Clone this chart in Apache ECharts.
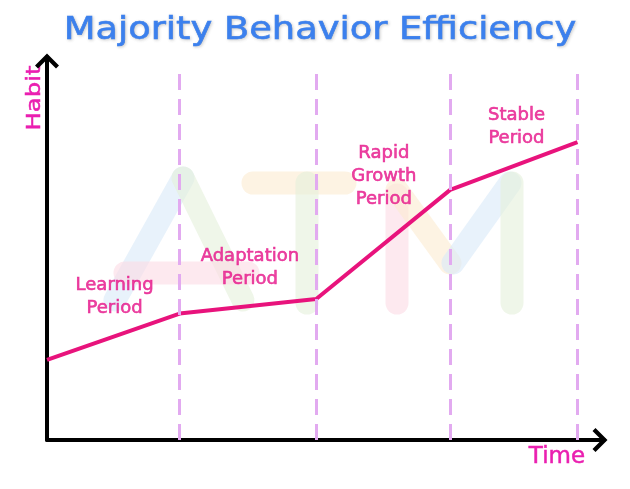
<!DOCTYPE html>
<html lang="en">
<head>
    <meta charset="UTF-8">
    <title>Majority Behavior Efficiency</title>
    <script src="https://cdn.jsdelivr.net/npm/echarts@6/dist/echarts.min.js"></script>
    <style>
      html, body { margin: 0; padding: 0; background: #fff; }
      #main { width: 630px; height: 489px; }
    </style>
</head>
<body>
<div id="main"></div>
<script>
// data
var stages = [0, 1, 2.03, 3.04, 4];          // period boundaries on the time axis
var habit = [2.09, 3.30, 3.68, 6.53, 7.78];  // habit level at each boundary
var periodNames = ['Learning\nPeriod', 'Adaptation\nPeriod', 'Rapid\nGrowth\nPeriod', 'Stable\nPeriod'];
var periodLabelX = [0.51, 1.53, 2.54, 3.54];
var periodLabelY = [3.73, 4.49, 6.89, 8.17];
var dividerTop = 9.66;

var pink = '#e8137c';
var labelPink = '#e6148a';
var axisPink = '#ea1fb0';
var lavender = '#e2aaf0';
var font = 'DejaVu Sans';

var lineData = stages.map(function (x, i) { return [x, habit[i]]; });
var labelData = periodNames.map(function (n, i) { return { value: [periodLabelX[i], periodLabelY[i]], name: n }; });
var dividers = stages.slice(1).map(function (x) {
  return [{ coord: [x, 0] }, { coord: [x, dividerTop] }];
});

// faint "ATM" watermark strokes
function stroke(points, color) {
  return {
    type: 'polyline', z: -10, silent: true,
    shape: { points: points },
    style: { stroke: color, lineWidth: 23, lineCap: 'round', lineJoin: 'round', fill: null, opacity: 0.6 }
  };
}

var chevron = 'path://M0,12 L12,0 L24,12 L21,15 L12,6 L3,15 Z';

var myChart = echarts.init(document.getElementById('main'));
var option = {
  backgroundColor: '#fff',
  animation: false,
  grid: { left: 47, right: 26, top: 57, bottom: 49, containLabel: false },
  xAxis: {
    type: 'value', min: 0, max: 4.2,
    axisLine: { show: true, lineStyle: { color: '#000', width: 4 }, symbol: ['none', chevron], symbolSize: [24, 15], symbolOffset: [0, -4] },
    axisTick: { show: false }, axisLabel: { show: false }, splitLine: { show: false }
  },
  yAxis: {
    type: 'value', min: 0, max: 10,
    axisLine: { show: true, lineStyle: { color: '#000', width: 4 }, symbol: ['none', chevron], symbolSize: [24, 15], symbolOffset: [0, -4] },
    axisTick: { show: false }, axisLabel: { show: false }, splitLine: { show: false }
  },
  graphic: [
    stroke([[115, 300], [183, 178]], '#d8eaf8'),
    stroke([[183, 178], [243, 300]], '#e4f0da'),
    stroke([[125, 273], [248, 273]], '#fbdae4'),
    stroke([[253, 183], [345, 183]], '#fcebd0'),
    stroke([[307, 183], [307, 303]], '#e4f0da'),
    stroke([[397, 195], [397, 303]], '#fbdae4'),
    stroke([[397, 190], [450, 263]], '#fcebd0'),
    stroke([[453, 263], [510, 183]], '#d8eaf8'),
    stroke([[512, 183], [512, 303]], '#e4f0da'),
    {
      // chart title, stretched a little to match the wide spacing
      type: 'text', x: 320, y: 31, scaleX: 1.15, z: 10,
      style: {
        text: 'Majority Behavior Efficiency', fill: '#3b80ee', fontSize: 32, fontFamily: font,
        align: 'center', verticalAlign: 'middle',
        stroke: '#3b80ee', lineWidth: 0.6,
        textShadowColor: 'rgba(110,110,110,0.3)', textShadowBlur: 3, textShadowOffsetX: 1, textShadowOffsetY: 1
      }
    },
    {
      type: 'text', x: 35, y: 98, rotation: Math.PI / 2, scaleX: 1.22,
      style: { text: 'Habit', fill: axisPink, stroke: axisPink, lineWidth: 0.5, fontSize: 20, fontFamily: font, align: 'center', verticalAlign: 'middle' }
    },
    {
      type: 'text', x: 557, y: 457,
      style: { text: 'Time', fill: axisPink, stroke: axisPink, lineWidth: 0.5, fontSize: 23, fontFamily: font, align: 'center', verticalAlign: 'middle' }
    }
  ],
  series: [
    {
      type: 'line',
      data: lineData,
      symbol: 'none',
      lineStyle: { color: pink, width: 4 },
      z: 3,
      markLine: {
        silent: true,
        symbol: 'none',
        label: { show: false },
        lineStyle: { color: lavender, width: 3, type: [16, 9] },
        data: dividers
      }
    },
    {
      type: 'scatter',
      data: labelData,
      symbolSize: 0,
      z: 4,
      label: {
        show: true,
        position: 'inside',
        formatter: '{b}',
        color: labelPink,
        textBorderColor: labelPink,
        textBorderWidth: 0.6,
        fontSize: 18,
        lineHeight: 23,
        fontFamily: font,
        align: 'center'
      }
    }
  ]
};
myChart.setOption(option);
</script>
</body>
</html>
